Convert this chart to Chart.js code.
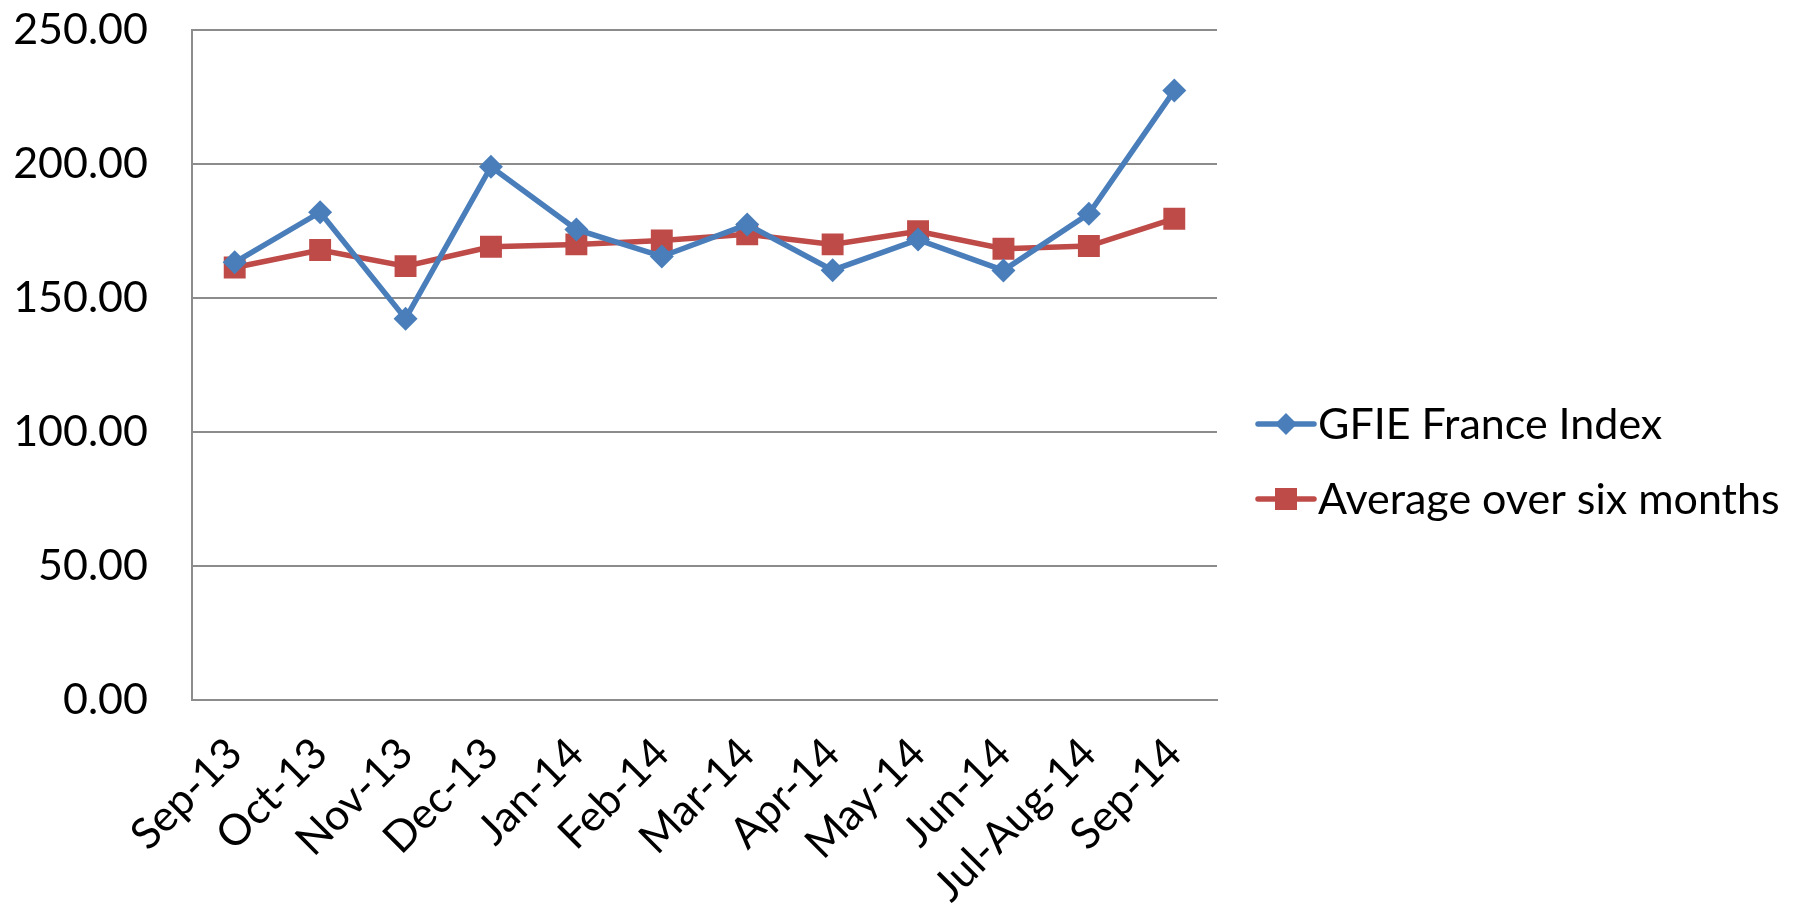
<!DOCTYPE html>
<html>
<head>
<meta charset="utf-8">
<script src="https://cdn.jsdelivr.net/npm/chart.js@4/dist/chart.umd.min.js"></script>
<style>
  body { margin: 0; background: #fff; }
  #wrap { width: 1807px; height: 915px; }
</style>
</head>
<body>
<div id="wrap"><canvas id="gfieChart"></canvas></div>
<script>
const months = ['Sep-13', 'Oct-13', 'Nov-13', 'Dec-13', 'Jan-14', 'Feb-14', 'Mar-14', 'Apr-14', 'May-14', 'Jun-14', 'Jul-Aug-14', 'Sep-14'];
const gfieIndex = [163.3, 182.0, 142.3, 199.0, 175.6, 165.5, 177.4, 160.4, 171.8, 160.3, 181.4, 227.4];
const sixMonthAvg = [161.4, 167.9, 161.9, 169.1, 170.0, 171.5, 173.8, 170.0, 174.9, 168.4, 169.4, 179.6];
const yTicks = [0, 50, 100, 150, 200, 250];

const blue = '#4A7EBB';
const red = '#BE4B48';
const fontSize = 43;

// legend on the right, line + marker like the spreadsheet one
const sideLegend = {
    id: 'sideLegend',
    afterDraw(chart) {
        const ctx = chart.ctx;
        const x0 = 1258, x1 = 1314, textX = 1318;
        const rows = [424, 499];
        ctx.save();
        chart.data.datasets.forEach((ds, i) => {
            const y = rows[i];
            ctx.strokeStyle = ds.borderColor;
            ctx.lineWidth = ds.borderWidth;
            ctx.lineCap = 'round';
            ctx.beginPath();
            ctx.moveTo(x0, y);
            ctx.lineTo(x1, y);
            ctx.stroke();
            const cx = (x0 + x1) / 2;
            ctx.fillStyle = ds.borderColor;
            ctx.beginPath();
            if (ds.pointStyle === 'rectRot') {
                const r = 11;
                ctx.moveTo(cx - r, y);
                ctx.lineTo(cx, y - r);
                ctx.lineTo(cx + r, y);
                ctx.lineTo(cx, y + r);
            } else {
                ctx.rect(cx - 11, y - 11, 22, 22);
            }
            ctx.closePath();
            ctx.fill();
            ctx.fillStyle = '#000';
            ctx.font = fontSize + 'px Lato';
            ctx.textAlign = 'left';
            ctx.textBaseline = 'middle';
            ctx.fillText(ds.label, textX, y + 1);
        });
        ctx.restore();
    }
};

new Chart(document.getElementById('gfieChart'), {
    type: 'line',
    data: {
        labels: months,
        datasets: [
            {
                label: 'GFIE France Index',
                data: gfieIndex,
                borderColor: blue,
                backgroundColor: blue,
                borderWidth: 5.5,
                pointStyle: 'rectRot',
                pointRadius: 12,
                pointBorderWidth: 0,
                tension: 0
            },
            {
                label: 'Average over six months',
                data: sixMonthAvg,
                borderColor: red,
                backgroundColor: red,
                borderWidth: 5.5,
                pointStyle: 'rect',
                pointRadius: 15.5,
                pointBorderWidth: 0,
                tension: 0
            }
        ]
    },
    options: {
        responsive: true,
        maintainAspectRatio: false,
        animation: false,
        layout: { padding: { top: 30, right: 590, left: 0, bottom: 0 } },
        plugins: {
            legend: { display: false },
            tooltip: { enabled: false }
        },
        scales: {
            x: {
                offset: true,
                grid: { display: false, drawTicks: false },
                border: { color: '#8c8c8c', width: 2 },
                ticks: {
                    color: '#000',
                    font: { family: 'Lato', size: fontSize },
                    minRotation: 45,
                    maxRotation: 45,
                    padding: 28
                },
                afterFit(scale) {
                    scale.height = 215;
                    scale.paddingLeft = 0;
                    scale.paddingRight = 0;
                }
            },
            y: {
                min: 0,
                max: 250,
                afterBuildTicks(scale) { scale.ticks = yTicks.map(v => ({ value: v })); },
                grid: { color: '#8c8c8c', lineWidth: 2, drawTicks: false },
                border: { color: '#8c8c8c', width: 2 },
                ticks: {
                    color: '#000',
                    font: { family: 'Lato', size: fontSize },
                    padding: 44,
                    callback: v => v.toFixed(2)
                },
                afterFit(scale) {
                    scale.width = 192;
                    scale.paddingTop = 0;
                    scale.paddingBottom = 0;
                }
            }
        }
    },
    plugins: [sideLegend]
});
</script>
</body>
</html>
